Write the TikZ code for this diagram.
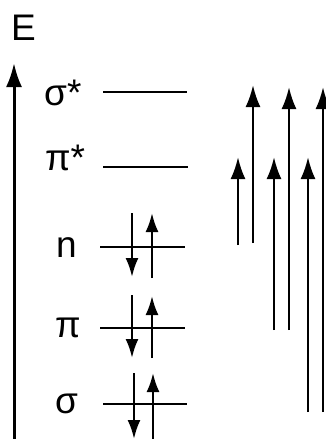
\documentclass[tikz,border=0pt]{standalone}
\usepackage{fontspec}
\setmainfont{Liberation Sans}
\usetikzlibrary{arrows.meta}
\begin{document}
\begin{tikzpicture}[x=1pt,y=-1pt,
 lbl/.style={font=\fontsize{37}{37}\selectfont, inner sep=0pt, anchor=base west},
 level/.style={line width=2.6pt},
 trans/.style={line width=2.4pt,-{Latex[length=22pt,width=15pt]}},
 spin/.style={line width=2.4pt,-{Latex[length=19pt,width=13pt]}},
 axis/.style={line width=3pt,-{Latex[length=24pt,width=16pt]}}]
\useasboundingbox (0,0) rectangle (326,439);
% energy axis
\node[lbl] (E) at (11,40) {E};
\coordinate (ax0) at (14,439);
\coordinate (ax1) at (14,63);
\draw[axis] (ax0) -- (ax1);
% labels
\node[lbl] (ssl) at (44,105) {σ*};
\node[lbl] (psl) at (45,170) {π*};
\node[lbl] (nl) at (56,257) {n};
\node[lbl] (pl) at (55,337) {π};
\node[lbl] (sl) at (55,413) {σ};
% levels
\coordinate (ss0) at (103,92);  \coordinate (ss1) at (187,92);
\coordinate (ps0) at (103,167); \coordinate (ps1) at (188,167);
\coordinate (n0) at (100,247);  \coordinate (n1) at (185,247);
\coordinate (p0) at (100,328);  \coordinate (p1) at (185,328);
\coordinate (s0) at (103,404);  \coordinate (s1) at (187,404);
\draw[level] (ss0) -- (ss1);
\draw[level] (ps0) -- (ps1);
\draw[level] (n0) -- (n1);
\draw[level] (p0) -- (p1);
\draw[level] (s0) -- (s1);
% spins
\coordinate (nd0) at (132,213); \coordinate (nd1) at (132,277);
\coordinate (nu0) at (152,278); \coordinate (nu1) at (152,213);
\coordinate (pd0) at (132,295); \coordinate (pd1) at (132,358);
\coordinate (pu0) at (152,358); \coordinate (pu1) at (152,296);
\coordinate (sd0) at (134,373); \coordinate (sd1) at (134,439);
\coordinate (su0) at (153,439); \coordinate (su1) at (153,373);
\draw[spin] (nd0) -- (nd1);
\draw[spin] (nu0) -- (nu1);
\draw[spin] (pd0) -- (pd1);
\draw[spin] (pu0) -- (pu1);
\draw[spin] (sd0) -- (sd1);
\draw[spin] (su0) -- (su1);
% transitions
\coordinate (t1a) at (238,245); \coordinate (t1b) at (238,157);
\coordinate (t2a) at (253,243); \coordinate (t2b) at (253,85);
\coordinate (t3a) at (274,330); \coordinate (t3b) at (274,157);
\coordinate (t4a) at (289,330); \coordinate (t4b) at (289,87);
\coordinate (t5a) at (308,412); \coordinate (t5b) at (308,157);
\coordinate (t6a) at (323,412); \coordinate (t6b) at (323,87);
\draw[trans] (t1a) -- (t1b);
\draw[trans] (t2a) -- (t2b);
\draw[trans] (t3a) -- (t3b);
\draw[trans] (t4a) -- (t4b);
\draw[trans] (t5a) -- (t5b);
\draw[trans] (t6a) -- (t6b);
\end{tikzpicture}
\end{document}
